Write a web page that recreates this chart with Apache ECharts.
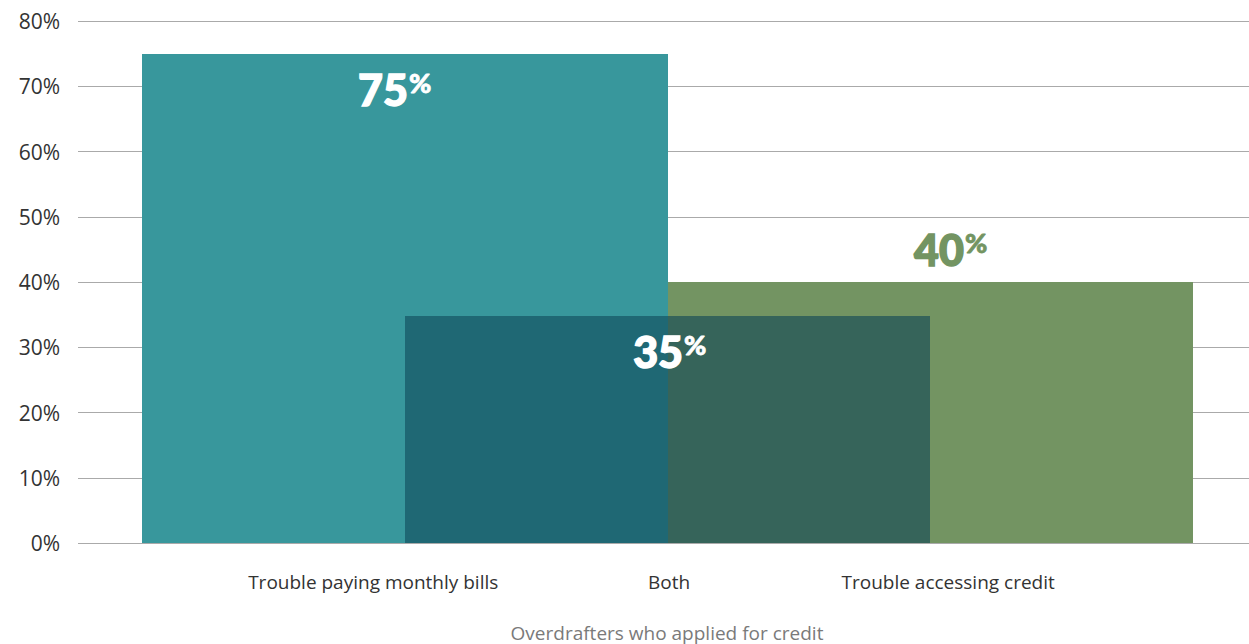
<!DOCTYPE html>
<html>
<head>
<meta charset="utf-8">
<script src="https://cdn.jsdelivr.net/npm/echarts@6/dist/echarts.min.js"></script>
<style>html,body{margin:0;padding:0;background:#fff;}#c{width:1249px;height:644px;}</style>
</head>
<body>
<div id="c"></div>
<script>
// ---- data ----
const categories = ['Trouble paying monthly bills', 'Both', 'Trouble accessing credit'];
const values = [75, 34.8, 40];
const valueLabels = ['75', '35', '40'];
const axisTitle = 'Overdrafters who applied for credit';
const yMin = 0, yMax = 80, yStep = 10;

// ---- layout / style ----
const spans = [[0, 2], [1, 3], [2, 4]];               // bar extents in x units
const fills = [['#38979c'], ['#1f6874', '#36645a'], ['#739462']];
const catLabelX = [0.88, 2.006, 3.068];
const valSplitX = [1.012, 2.059, 3.128];
const valMode = ['inside', 'inside', 'above'];
const valColor = ['#ffffff', '#ffffff', '#739462'];
const drawOrder = [0, 2, 1];

const chart = echarts.init(document.getElementById('c'), null, { renderer: 'svg' });

function renderBar(params, api) {
  const i = api.value(0);
  const v = api.value(1);
  const [a, b] = spans[i];
  const children = [];
  const cols = fills[i];
  const n = cols.length;
  for (let k = 0; k < n; k++) {
    const x0 = a + (b - a) * k / n, x1 = a + (b - a) * (k + 1) / n;
    const p0 = api.coord([x0, v]);
    const p1 = api.coord([x1, 0]);
    const L = Math.round(p0[0]), R = Math.round(p1[0]), T = Math.round(p0[1]), B = Math.round(p1[1]);
    children.push({ type: 'rect', shape: { x: L, y: T, width: R - L, height: B - T }, style: { fill: cols[k] } });
  }
  // value label
  const top = api.coord([valSplitX[i], v]);
  const cy = valMode[i] === 'inside' ? top[1] + 36 : top[1] - 33;
  children.push({ type: 'text', x: top[0], y: cy, style: { text: valueLabels[i], fill: valColor[i], stroke: valColor[i], lineWidth: 1.4, font: '900 43px Lato', align: 'right', verticalAlign: 'middle' } });
  children.push({ type: 'text', x: top[0] + 1, y: cy - 7, style: { text: '%', fill: valColor[i], stroke: valColor[i], lineWidth: 0.8, font: '900 27px Lato', align: 'left', verticalAlign: 'middle' } });
  // category label
  const base = api.coord([catLabelX[i], 0]);
  children.push({ type: 'text', x: base[0], y: base[1] + 39, style: { text: categories[i], fill: '#333333', font: '19px "Open Sans"', align: 'center', verticalAlign: 'middle' } });
  return { type: 'group', children };
}

const option = {
  animation: false,
  grid: { left: 78, right: 0, top: 21, bottom: 101, containLabel: false, outerBoundsMode: 'none' },
  xAxis: {
    type: 'value', min: -0.2436, max: 4.213,
    axisLine: { show: false }, axisTick: { show: false }, axisLabel: { show: false }, splitLine: { show: false },
    name: axisTitle, nameLocation: 'middle', nameGap: 80,
    nameTextStyle: { color: '#7a7a7a', fontSize: 19, fontFamily: 'Open Sans', padding: [0, 0, 0, 7] }
  },
  yAxis: {
    type: 'value', min: yMin, max: yMax, interval: yStep,
    axisLine: { show: false }, axisTick: { show: false },
    axisLabel: { formatter: '{value}%', color: '#333333', fontSize: 21, fontFamily: 'Open Sans', margin: 18 },
    splitLine: { lineStyle: { color: '#aaaaaa', width: 1 } }
  },
  series: [{
    type: 'custom',
    renderItem: renderBar,
    clip: false,
    encode: { x: 0, y: 1 },
    data: drawOrder.map(i => [i, values[i]])
  }]
};
chart.setOption(option);
</script>
</body>
</html>
